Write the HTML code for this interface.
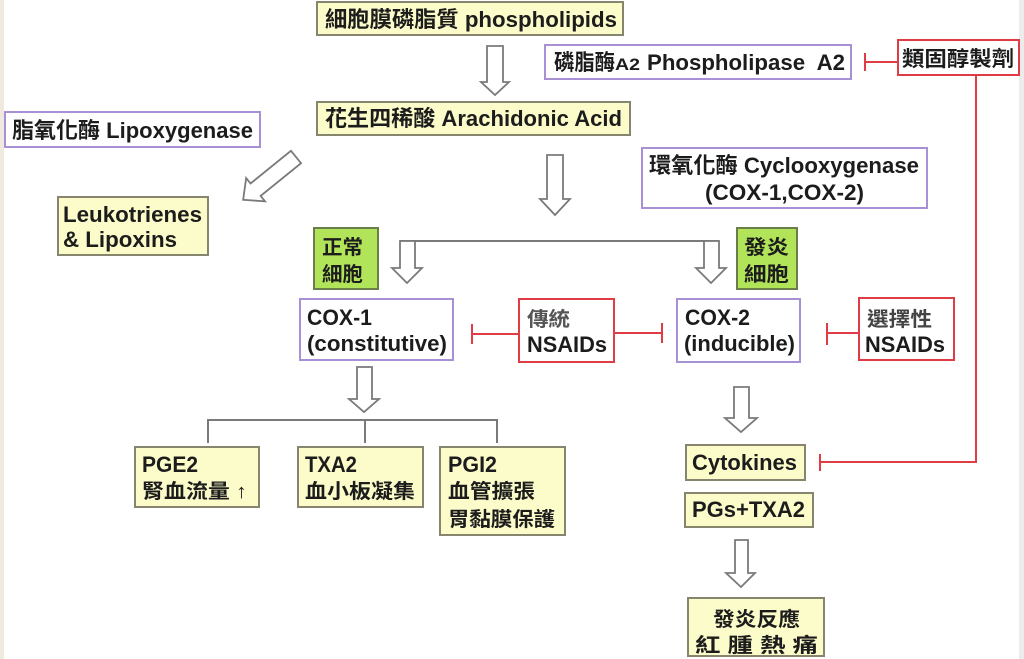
<!DOCTYPE html>
<html><head><meta charset="utf-8">
<style>
html,body{margin:0;padding:0;background:#fff;}
svg{display:block;}
text{font-family:"Liberation Sans","Noto Sans CJK TC","Noto Sans CJK SC",sans-serif;font-weight:bold;fill:#1c1c1c;}
</style></head>
<body>
<svg width="1024" height="659" viewBox="0 0 1024 659" xmlns="http://www.w3.org/2000/svg">
<rect width="1024" height="659" fill="#fff"/>
<rect x="0" y="0" width="4" height="659" fill="#efe9df"/>
<rect x="1019" y="0" width="5" height="659" fill="#ececec"/>

<!-- yellow boxes -->
<g fill="#fcfcca" stroke="#86866e" stroke-width="2">
<rect x="317" y="2" width="306" height="33"/>
<rect x="317" y="102" width="313" height="33"/>
<rect x="58" y="197" width="150" height="58"/>
<rect x="135" y="447" width="124" height="60"/>
<rect x="298" y="447" width="125" height="60"/>
<rect x="440" y="447" width="125" height="88"/>
<rect x="686" y="445" width="119" height="35"/>
<rect x="685" y="493" width="128" height="34"/>
<rect x="688" y="598" width="136" height="58"/>
</g>

<!-- purple boxes -->
<g fill="#fff" stroke="#a791d4" stroke-width="2">
<rect x="545" y="45" width="306" height="34"/>
<rect x="5" y="112" width="255" height="35"/>
<rect x="642" y="148" width="285" height="60"/>
<rect x="300" y="299" width="153" height="61"/>
<rect x="677" y="299" width="123" height="63"/>
</g>

<!-- red boxes -->
<g fill="#fff" stroke="#e03c46" stroke-width="2">
<rect x="898" y="40" width="121" height="35"/>
<rect x="519" y="299" width="95" height="63"/>
<rect x="859" y="298" width="95" height="62"/>
</g>

<!-- green boxes -->
<g fill="#b2e45a" stroke="#6b7d4a" stroke-width="2">
<rect x="314" y="228" width="64" height="61"/>
<rect x="737" y="228" width="60" height="61"/>
</g>

<!-- gray bracket lines -->
<g stroke="#7a7a7a" stroke-width="2" fill="none">
<line x1="400" y1="241" x2="719" y2="241"/>
<polyline points="208,443 208,420 497,420 497,443"/>
<line x1="365" y1="420" x2="365" y2="443"/>
</g>

<!-- hollow arrows -->
<g fill="#fff" stroke="#7a7a7a" stroke-width="1.8" stroke-linejoin="miter">
<polygon points="487,46 503,46 503,82 509,82 495,95 481,82 487,82"/>
<polygon points="547,155 563,155 563,199 570,199 555,215 540,199 547,199"/>
<polygon points="400,241 415,241 415,268 422,268 407,283 392,268 400,268"/>
<polygon points="704,241 719,241 719,268 726,268 711,283 696,268 704,268"/>
<polygon points="357,367 372,367 372,399 379,399 364,412 349,399 357,399"/>
<polygon points="734,387 749,387 749,418 757,418 741,432 725,418 734,418"/>
<polygon points="735,540 748,540 748,573 755,573 741,587 726,573 735,573"/>
<polygon transform="translate(296,157) rotate(51)" points="-8,0 8,0 8,52 15,52 0,68 -15,52 -8,52"/>
</g>

<!-- red inhibition lines -->
<g stroke="#e03c46" stroke-width="2" fill="none">
<line x1="865" y1="62" x2="898" y2="62"/>
<line x1="865" y1="53" x2="865" y2="71"/>
<polyline points="976,75 976,462 820,462"/>
<line x1="820" y1="454" x2="820" y2="471"/>
<line x1="472" y1="334" x2="519" y2="334"/>
<line x1="472" y1="324" x2="472" y2="344"/>
<line x1="614" y1="333" x2="662" y2="333"/>
<line x1="662" y1="323" x2="662" y2="343"/>
<line x1="827" y1="333" x2="859" y2="333"/>
<line x1="827" y1="323" x2="827" y2="345"/>
</g>

<!-- texts -->
<g font-size="22">
<text x="325" y="27" textLength="292" lengthAdjust="spacingAndGlyphs">細胞膜磷脂質 phospholipids</text>
<text x="325" y="126" textLength="297" lengthAdjust="spacingAndGlyphs">花生四稀酸 Arachidonic Acid</text>
<text x="554" y="70" textLength="61" lengthAdjust="spacingAndGlyphs">磷脂酶</text>
<text x="615" y="70" font-size="17" font-weight="normal" textLength="25" lengthAdjust="spacingAndGlyphs">A2</text>
<text x="647" y="70" textLength="198" lengthAdjust="spacingAndGlyphs">Phospholipase&#160; A2</text>
<text x="902" y="66" font-size="21" textLength="112" lengthAdjust="spacingAndGlyphs">類固醇製劑</text>
<text x="12" y="138" textLength="241" lengthAdjust="spacingAndGlyphs">脂氧化酶 Lipoxygenase</text>
<text x="63" y="222" textLength="139" lengthAdjust="spacingAndGlyphs">Leukotrienes</text>
<text x="63" y="247" textLength="114" lengthAdjust="spacingAndGlyphs">&amp; Lipoxins</text>
<text x="649" y="173" textLength="270" lengthAdjust="spacingAndGlyphs">環氧化酶 Cyclooxygenase</text>
<text x="705" y="200" textLength="159" lengthAdjust="spacingAndGlyphs">(COX-1,COX-2)</text>
<text x="322" y="254" font-size="20" textLength="41" lengthAdjust="spacingAndGlyphs">正常</text>
<text x="322" y="281" font-size="20" textLength="41" lengthAdjust="spacingAndGlyphs">細胞</text>
<text x="744" y="254" font-size="20" textLength="45" lengthAdjust="spacingAndGlyphs">發炎</text>
<text x="744" y="281" font-size="20" textLength="45" lengthAdjust="spacingAndGlyphs">細胞</text>
<text x="307" y="325" textLength="65" lengthAdjust="spacingAndGlyphs">COX-1</text>
<text x="307" y="351" textLength="140" lengthAdjust="spacingAndGlyphs">(constitutive)</text>
<text x="527" y="326" font-size="20" textLength="43" lengthAdjust="spacingAndGlyphs" style="fill:#555">傳統</text>
<text x="527" y="352" textLength="80" lengthAdjust="spacingAndGlyphs">NSAIDs</text>
<text x="685" y="325" textLength="65" lengthAdjust="spacingAndGlyphs">COX-2</text>
<text x="684" y="351" textLength="111" lengthAdjust="spacingAndGlyphs">(inducible)</text>
<text x="867" y="326" font-size="20" textLength="65" lengthAdjust="spacingAndGlyphs" style="fill:#444">選擇性</text>
<text x="865" y="352" textLength="80" lengthAdjust="spacingAndGlyphs">NSAIDs</text>
<text x="142" y="472" textLength="56" lengthAdjust="spacingAndGlyphs">PGE2</text>
<text x="142" y="498" font-size="20" textLength="105" lengthAdjust="spacingAndGlyphs">腎血流量 ↑</text>
<text x="305" y="472" textLength="52" lengthAdjust="spacingAndGlyphs">TXA2</text>
<text x="305" y="498" font-size="20" textLength="110" lengthAdjust="spacingAndGlyphs">血小板凝集</text>
<text x="448" y="472" textLength="49" lengthAdjust="spacingAndGlyphs">PGI2</text>
<text x="448" y="498" font-size="20" textLength="87" lengthAdjust="spacingAndGlyphs">血管擴張</text>
<text x="448" y="526" font-size="20" textLength="107" lengthAdjust="spacingAndGlyphs">胃黏膜保護</text>
<text x="692" y="470" textLength="105" lengthAdjust="spacingAndGlyphs">Cytokines</text>
<text x="692" y="517" textLength="113" lengthAdjust="spacingAndGlyphs">PGs+TXA2</text>
<text x="713" y="626" font-size="20" textLength="87" lengthAdjust="spacingAndGlyphs">發炎反應</text>
<text x="695" y="652" font-size="20" textLength="123" lengthAdjust="spacingAndGlyphs">紅 腫 熱 痛</text>
</g>
</svg>
</body></html>
